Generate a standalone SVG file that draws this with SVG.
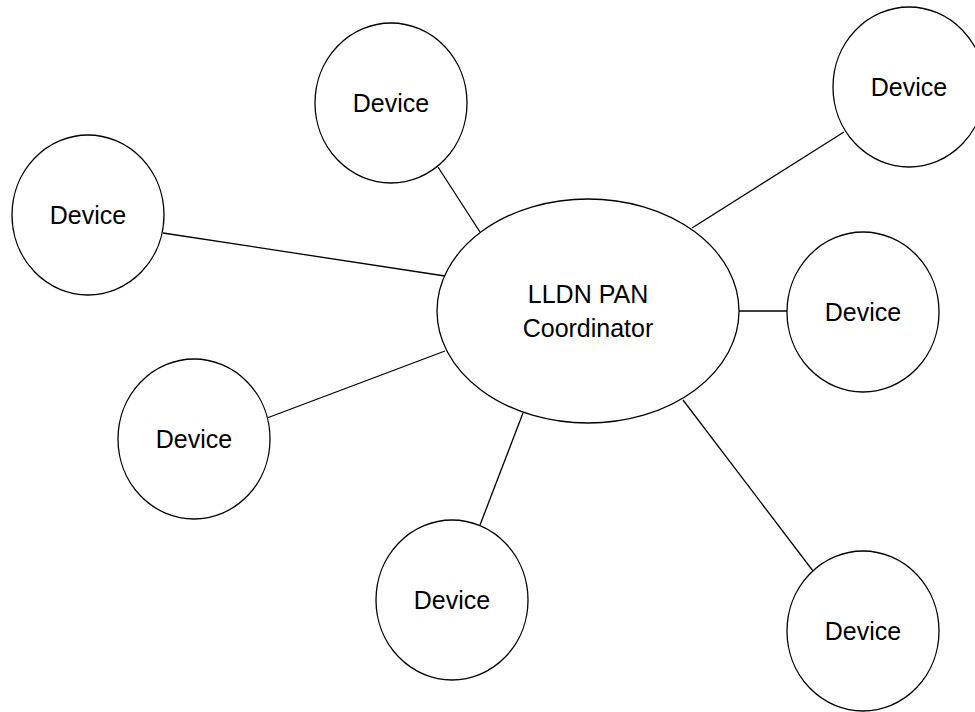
<svg xmlns="http://www.w3.org/2000/svg" width="975" height="712" viewBox="0 0 975 712">
  <style>
    .link { stroke: #000; stroke-width: 1.3; fill: none; }
    .node { fill: #fff; stroke: #000; stroke-width: 1.3; }
    .label { font-family: "Liberation Sans", Arial, sans-serif; font-size: 25px; fill: #000; text-anchor: middle; }
  </style>
  <rect width="975" height="712" fill="#fff"/>

  <!-- links from the coordinator to each device -->
  <g id="connectors">
    <line class="link" x1="480" y1="232" x2="438" y2="167"/>
    <line class="link" x1="692" y1="228" x2="844" y2="132"/>
    <line class="link" x1="445" y1="276" x2="163" y2="233"/>
    <line class="link" x1="739" y1="311" x2="787" y2="311"/>
    <line class="link" x1="445" y1="351" x2="267" y2="418"/>
    <line class="link" x1="523" y1="413" x2="480" y2="525"/>
    <line class="link" x1="683" y1="400" x2="813" y2="571"/>
  </g>

  <g id="coordinator">
    <ellipse class="node" cx="588" cy="311" rx="151" ry="112"/>
    <text class="label" x="588" y="303">LLDN PAN</text>
    <text class="label" x="588" y="337">Coordinator</text>
  </g>

  <g id="device-top">
    <ellipse class="node" cx="391" cy="103" rx="76" ry="80"/>
    <text class="label" x="391" y="112">Device</text>
  </g>
  <g id="device-top-right">
    <ellipse class="node" cx="909" cy="87" rx="76" ry="80"/>
    <text class="label" x="909" y="96">Device</text>
  </g>
  <g id="device-left">
    <ellipse class="node" cx="88" cy="215" rx="76" ry="80"/>
    <text class="label" x="88" y="224">Device</text>
  </g>
  <g id="device-right">
    <ellipse class="node" cx="863" cy="312" rx="76" ry="80"/>
    <text class="label" x="863" y="321">Device</text>
  </g>
  <g id="device-left-lower">
    <ellipse class="node" cx="194" cy="439" rx="76" ry="80"/>
    <text class="label" x="194" y="448">Device</text>
  </g>
  <g id="device-bottom">
    <ellipse class="node" cx="452" cy="600" rx="76" ry="80"/>
    <text class="label" x="452" y="609">Device</text>
  </g>
  <g id="device-bottom-right">
    <ellipse class="node" cx="863" cy="631" rx="76" ry="80"/>
    <text class="label" x="863" y="640">Device</text>
  </g>
</svg>
